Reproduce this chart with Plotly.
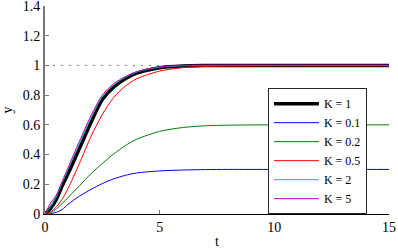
import plotly.graph_objects as go

# time samples (s)
t = [0, 0.25, 0.5, 0.75, 1, 1.5, 2, 2.5, 3, 3.5, 4, 5, 6, 7, 8, 10, 12, 15]

# step responses
y_k1   = [0, 0.04, 0.10, 0.19, 0.27, 0.44, 0.615, 0.77, 0.855, 0.91, 0.948, 0.985, 0.997, 1.0, 1.0, 1.0, 1.0, 1.0]
y_k01  = [0, 0.003, 0.012, 0.03, 0.065, 0.12, 0.165, 0.205, 0.237, 0.26, 0.276, 0.29, 0.296, 0.299, 0.3, 0.3, 0.3, 0.3]
y_k02  = [0, 0.01, 0.035, 0.07, 0.11, 0.19, 0.27, 0.34, 0.405, 0.46, 0.503, 0.556, 0.582, 0.594, 0.598, 0.6, 0.6, 0.6]
y_k05  = [0, 0.015, 0.05, 0.10, 0.17, 0.34, 0.52, 0.67, 0.785, 0.86, 0.91, 0.962, 0.985, 0.993, 0.996, 0.997, 0.997, 0.997]
y_k2   = [0, 0.05, 0.12, 0.21, 0.30, 0.475, 0.645, 0.79, 0.87, 0.92, 0.955, 0.988, 0.998, 1.0, 1.0, 1.0, 1.0, 1.0]
y_k5   = [0, 0.075, 0.13, 0.22, 0.31, 0.49, 0.66, 0.80, 0.878, 0.925, 0.958, 0.99, 1.0, 1.002, 1.002, 1.002, 1.002, 1.002]

series_names = ["K = 1", "K = 0.1", "K = 0.2", "K = 0.5", "K = 2", "K = 5"]
series_values = [y_k1, y_k01, y_k02, y_k05, y_k2, y_k5]
series_colors = ["#000000", "#0000ff", "#007f00", "#ff0000", "#00bfbf", "#bf00bf"]
series_widths = [3.5, 1, 1, 1, 1, 1]

reference_level = 1
x_ticks = [0, 5, 10, 15]
y_ticks = [0, 0.2, 0.4, 0.6, 0.8, 1, 1.2, 1.4]
y_tick_labels = ["0", "0.2", "0.4", "0.6", "0.8", "1", "1.2", "1.4"]

FONT = "Liberation Serif"

fig = go.Figure()
fig.add_hline(y=reference_level, line=dict(color="#808080", width=1, dash="2px,6px"), layer="below")

for name, vals, col, w in zip(series_names, series_values, series_colors, series_widths):
    fig.add_trace(go.Scatter(x=t, y=vals, mode="lines", name=name,
                             line=dict(color=col, width=w, shape="spline", smoothing=0.8)))

axis_common = dict(showline=True, ticks="inside", ticklen=4,
                   tickcolor="#7a7a7a", showgrid=False, zeroline=False, mirror=False,
                   automargin=False, ticklabeloverflow="allow",
                   tickfont=dict(family=FONT, size=14, color="#000000"))

fig.update_xaxes(range=[0, 15.0001], tickvals=x_ticks, ticktext=[str(v) for v in x_ticks],
                 linecolor="#000000", linewidth=1,
                 title=dict(text="t", font=dict(family=FONT, size=14, color="#000"), standoff=2),
                 **axis_common)
fig.update_yaxes(range=[0, 1.4001], tickvals=y_ticks, ticktext=y_tick_labels,
                 linecolor="#7a7a7a", linewidth=2,
                 title=dict(text="y", font=dict(family=FONT, size=14, color="#000"), standoff=9),
                 **axis_common)

fig.update_layout(
    width=398, height=252,
    margin=dict(l=45, r=9, t=6, b=38),
    paper_bgcolor="white", plot_bgcolor="white",
    font=dict(family=FONT, size=14, color="#000"),
    showlegend=True,
    legend=dict(x=0.648, y=0.605, xanchor="left", yanchor="top",
                bgcolor="white", bordercolor="#262626", borderwidth=1,
                font=dict(family=FONT, size=12, color="#000"),
                itemwidth=45, tracegroupgap=0),
)

fig.write_html("out.html", config={"displayModeBar": False},
               post_script="document.body.style.margin='0px';")
